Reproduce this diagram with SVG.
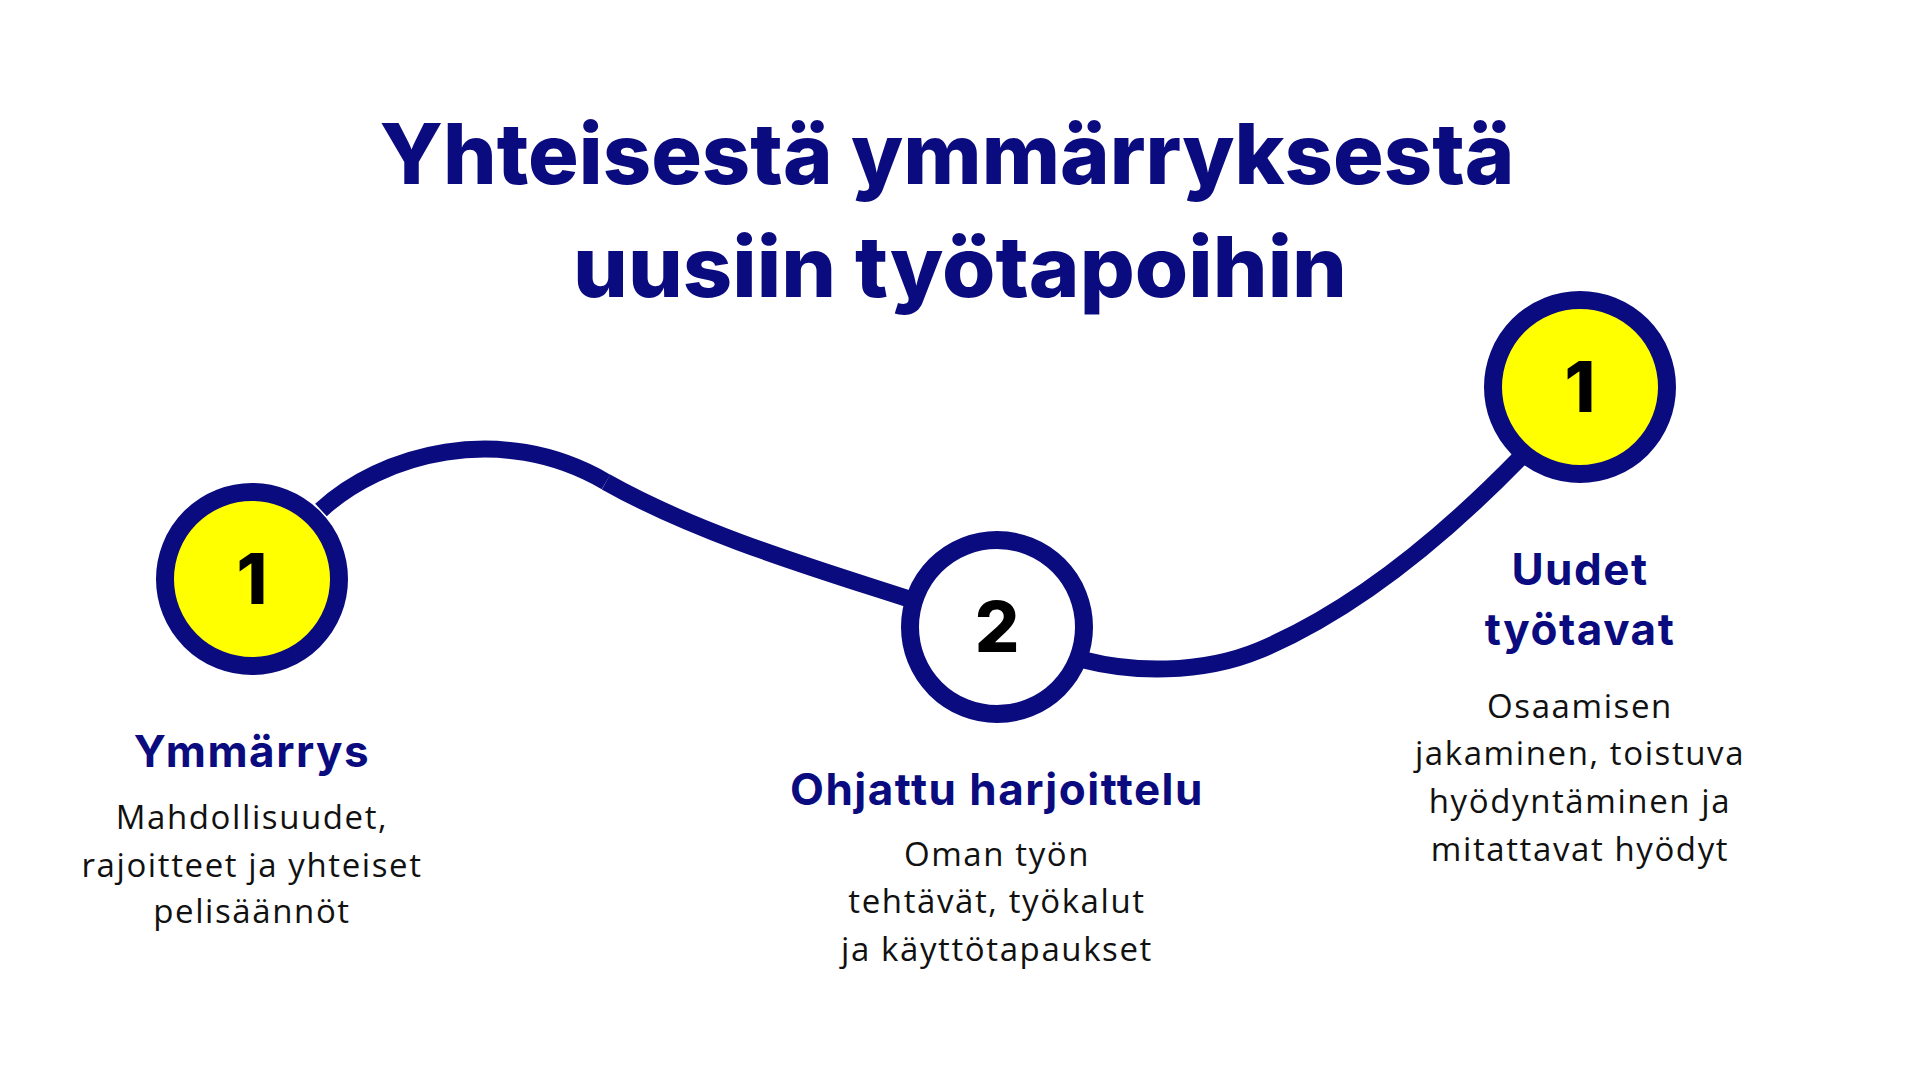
<svg xmlns="http://www.w3.org/2000/svg" width="1920" height="1080" viewBox="0 0 1920 1080">
<style>
.title{font-family:Inter,"Noto Sans",sans-serif;font-weight:800;fill:#0b0b80;text-anchor:middle}
.head{font-family:Inter,"Noto Sans",sans-serif;font-weight:700;fill:#0b0b80;text-anchor:middle;font-size:44px;letter-spacing:1.5px}
.desc{font-family:"Open Sans","Noto Sans",sans-serif;font-weight:400;fill:#111;text-anchor:middle;font-size:33px;letter-spacing:1.6px}
.num{font-family:Inter,"Noto Sans",sans-serif;font-weight:800;fill:#000;text-anchor:middle;font-size:70px}
.ring{stroke:#0b0b80;stroke-width:18}
.conn{fill:none;stroke:#0b0b80;stroke-width:17}
</style>
<rect width="1920" height="1080" fill="#fff"/>
<g id="title">
<text class="title" x="947" y="184" font-size="84" textLength="1135" lengthAdjust="spacingAndGlyphs">Yhteisestä ymmärryksestä</text>
<text class="title" x="960" y="297" font-size="84" textLength="774" lengthAdjust="spacingAndGlyphs">uusiin työtapoihin</text>
</g>
<g id="connectors">
<path class="conn" d="M 321 510 C 380 455, 500 420, 606 482"/>
<path class="conn" d="M 606 482 C 700 535, 820 570, 912 600"/>
<path class="conn" d="M 1084 660 C 1130 672, 1200 675, 1260 650 C 1350 612, 1440 540, 1520 458"/>
</g>
<g id="node1">
<circle class="ring" cx="252" cy="579" r="87" fill="#ffff00"/>
<text class="num" x="252" y="604">1</text>
<text class="head" x="252" y="767">Ymmärrys</text>
<text class="desc" x="252" y="829">Mahdollisuudet,</text>
<text class="desc" x="252" y="877">rajoitteet ja yhteiset</text>
<text class="desc" x="252" y="923">pelisäännöt</text>
</g>
<g id="node2">
<circle class="ring" cx="997" cy="627" r="87" fill="#fff"/>
<text class="num" x="997" y="652">2</text>
<text class="head" x="997" y="805">Ohjattu harjoittelu</text>
<text class="desc" x="997" y="866">Oman työn</text>
<text class="desc" x="997" y="913">tehtävät, työkalut</text>
<text class="desc" x="997" y="961">ja käyttötapaukset</text>
</g>
<g id="node3">
<circle class="ring" cx="1580" cy="387" r="87" fill="#ffff00"/>
<text class="num" x="1580" y="412">1</text>
<text class="head" x="1580" y="585">Uudet</text>
<text class="head" x="1580" y="645">työtavat</text>
<text class="desc" x="1580" y="718">Osaamisen</text>
<text class="desc" x="1580" y="765">jakaminen, toistuva</text>
<text class="desc" x="1580" y="813">hyödyntäminen ja</text>
<text class="desc" x="1580" y="861">mitattavat hyödyt</text>
</g>
</svg>
